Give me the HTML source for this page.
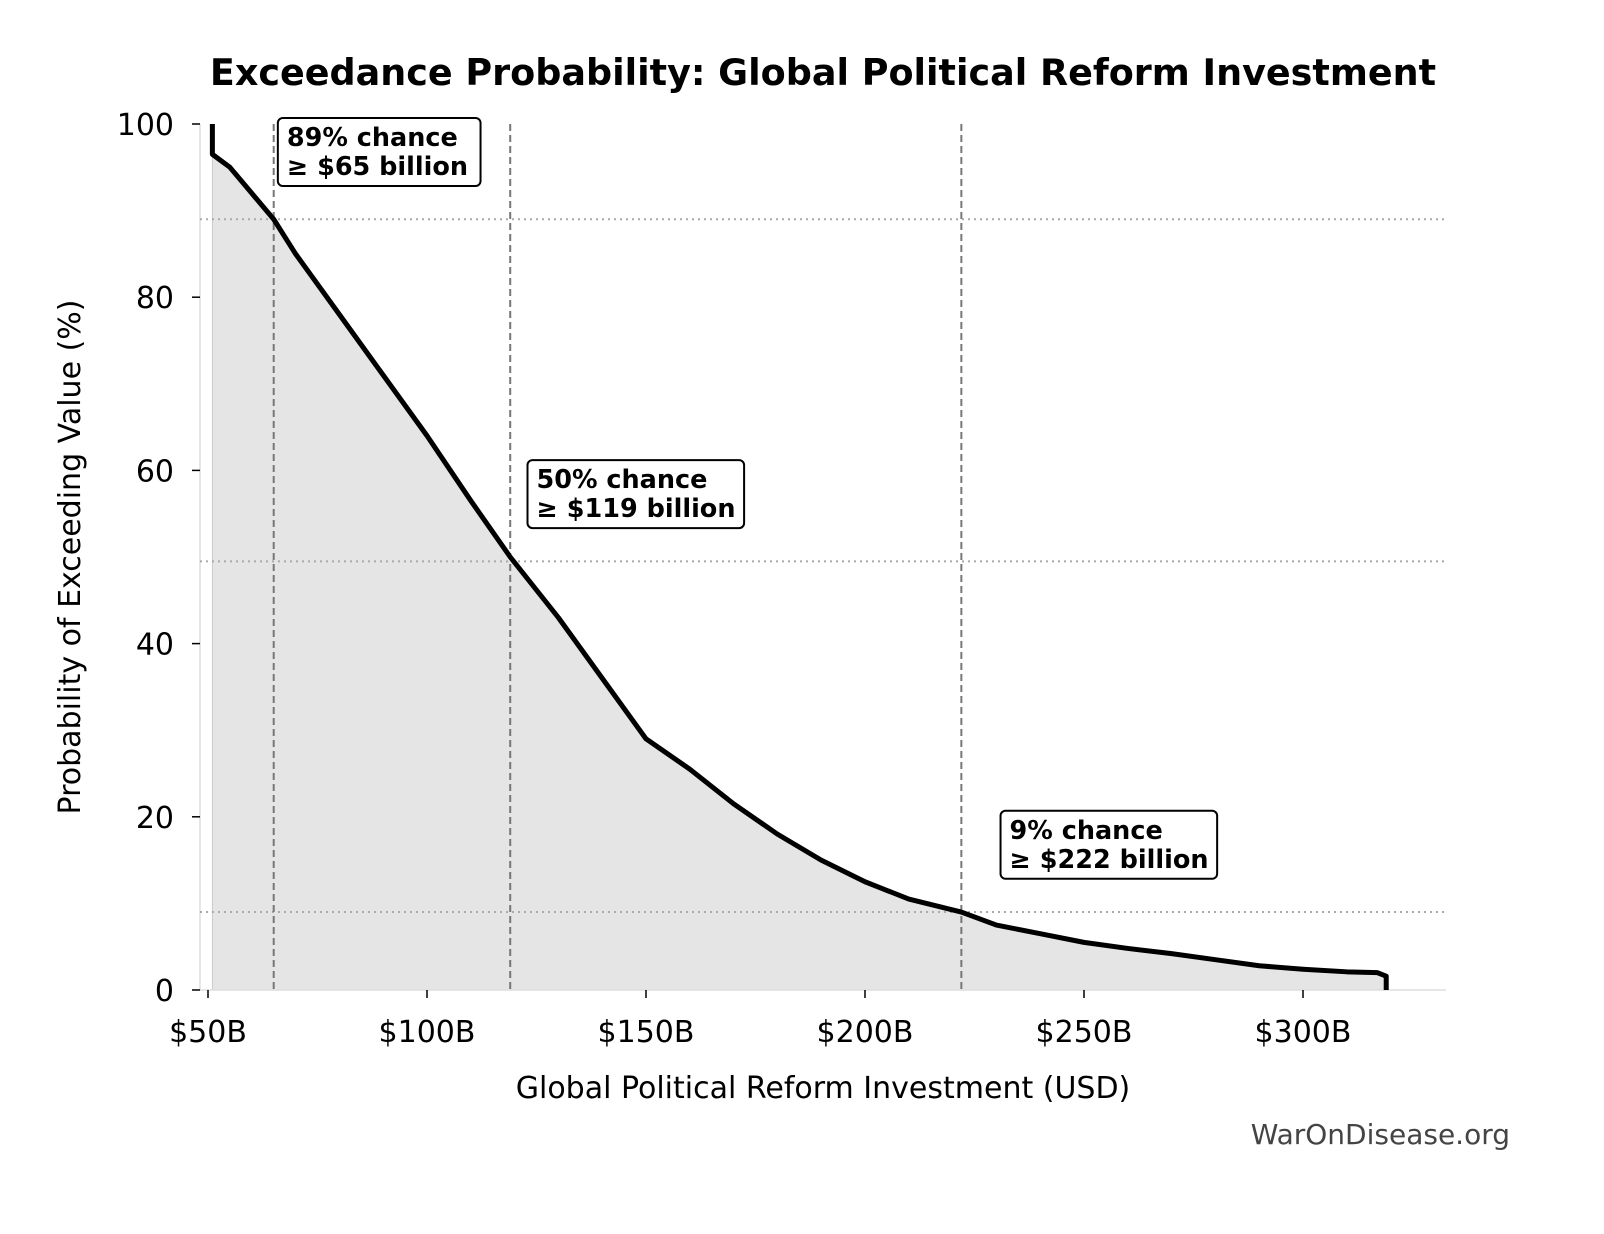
<!DOCTYPE html>
<html><head><meta charset="utf-8"><style>
body{margin:0;background:#fff}
svg{display:block;font-family:"DejaVu Sans","Liberation Sans",sans-serif}
</style></head><body>
<svg id="chart" width="1604" height="1234">
<text x="823" y="85" text-anchor="middle" font-size="36.5" font-weight="bold">Exceedance Probability: Global Political Reform Investment</text>
<g id="plot"></g>
<text x="823" y="1098" text-anchor="middle" font-size="30">Global Political Reform Investment (USD)</text>
<text transform="translate(80,557) rotate(-90)" text-anchor="middle" font-size="30">Probability of Exceeding Value (%)</text>
<text x="1510" y="1144" text-anchor="end" font-size="28" fill="#444">WarOnDisease.org</text>
</svg>
<script>
const xs=[51,51,55,60,65,70,75,80,90,100,110,119,130,140,150,160,170,180,190,200,210,222,230,240,250,260,270,280,290,300,310,317,318,319,319];
const ys=[100,96.5,95,92,89,85,81.5,78,71,64,56.5,50,43,36,29,25.5,21.5,18,15,12.5,10.5,9,7.5,6.5,5.5,4.8,4.2,3.5,2.8,2.4,2.1,2.0,1.8,1.6,0];
const xTicks=[50,100,150,200,250,300];
const xTickLabels=["$50B","$100B","$150B","$200B","$250B","$300B"];
const yTicks=[0,20,40,60,80,100];
const thrY=[89,49.5,9];
const thrX=[65,119,222];
const annLines=[["89% chance","≥ $65 billion"],["50% chance","≥ $119 billion"],["9% chance","≥ $222 billion"]];
const annAt=[[68,100],[125,60.5],[233,20]];
const X=v=>208+(v-50)*4.38, Y=v=>990-v*8.66;
const NS="http://www.w3.org/2000/svg", g=document.getElementById('plot');
function mk(t,a,p){const e=document.createElementNS(NS,t);for(const k in a)e.setAttribute(k,a[k]);(p||g).appendChild(e);return e;}
let d=xs.map((x,i)=>(i?'L':'M')+X(x)+','+Y(ys[i])).join('');
let f=mk('path',{d:d+'L'+X(xs[xs.length-1])+','+Y(0)+'L'+X(xs[0])+','+Y(0)+'Z',fill:'#e5e5e5',stroke:'#ccc','stroke-width':1});

let s=mk('line',{x1:200,y1:Y(100),x2:200,y2:Y(0),stroke:'#ddd','stroke-width':1.5});

s=mk('line',{x1:200,y1:Y(0),x2:1446,y2:Y(0),stroke:'#ddd','stroke-width':1.5});

thrY.forEach(v=>{const l=mk('line',{x1:200,x2:1446,y1:Y(v),y2:Y(v),stroke:'#aaa','stroke-width':2,'stroke-dasharray':'2,4'});
});
thrX.forEach(v=>{const l=mk('line',{x1:X(v),x2:X(v),y1:Y(100),y2:Y(0),stroke:'#777','stroke-width':2,'stroke-dasharray':'7,4'});
});
const c=mk('path',{d:d,fill:'none',stroke:'#000','stroke-width':5,'stroke-linejoin':'round'});

xTicks.forEach((v,i)=>{mk('line',{x1:X(v),x2:X(v),y1:990,y2:998,stroke:'#000','stroke-width':1.5});
const t=mk('text',{x:X(v),y:1042,'text-anchor':'middle','font-size':30});t.textContent=xTickLabels[i];
});
yTicks.forEach(v=>{mk('line',{x1:192,x2:200,y1:Y(v),y2:Y(v),stroke:'#000','stroke-width':1.5});
const t=mk('text',{x:174,y:Y(v)+11,'text-anchor':'end','font-size':30});t.textContent=v;
});
annLines.forEach((ls,i)=>{const ax=X(annAt[i][0]),ay=Y(annAt[i][1]);
const w=ls[1].length*13.9+22;
const r=mk('rect',{x:ax-9,y:ay-6,width:w,height:68,rx:5,fill:'#fff',stroke:'#000','stroke-width':2});

ls.forEach((s,j)=>{const t=mk('text',{x:ax,y:ay+22+j*29,'font-size':25.5,'font-weight':'bold'});t.textContent=s;
});});
</script>
</body></html>
